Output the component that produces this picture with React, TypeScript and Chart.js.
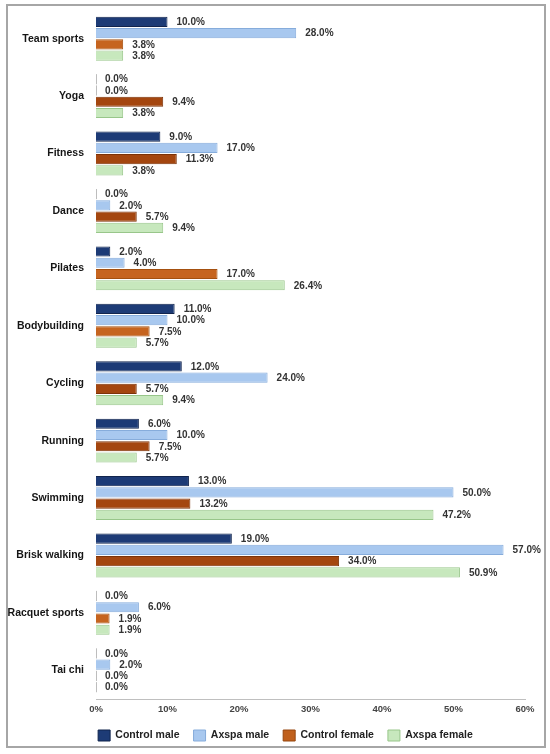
import React, { useEffect, useRef } from "react";
import { Chart, registerables } from "chart.js";

Chart.register(...registerables);

const categories = [
  "Team sports",
  "Yoga",
  "Fitness",
  "Dance",
  "Pilates",
  "Bodybuilding",
  "Cycling",
  "Running",
  "Swimming",
  "Brisk walking",
  "Racquet sports",
  "Tai chi",
];
const seriesNames = ["Control male", "Axspa male", "Control female", "Axspa female"];
const controlMale = [10.0, 0.0, 9.0, 0.0, 2.0, 11.0, 12.0, 6.0, 13.0, 19.0, 0.0, 0.0];
const axspaMale = [28.0, 0.0, 17.0, 2.0, 4.0, 10.0, 24.0, 10.0, 50.0, 57.0, 6.0, 2.0];
const controlFemale = [3.8, 9.4, 11.3, 5.7, 17.0, 7.5, 5.7, 7.5, 13.2, 34.0, 1.9, 0.0];
const axspaFemale = [3.8, 3.8, 3.8, 9.4, 26.4, 5.7, 9.4, 5.7, 47.2, 50.9, 1.9, 0.0];
const xMin = 0;
const xMax = 60;
const xStep = 10;

const FONT = "'Liberation Sans', Arial, Helvetica, sans-serif";

const fills = ["#1d3b76", "#a8c8ef", "#c0601c", "#c7e8bd"];
const borders = ["#11244d", "#86acdb", "#96470f", "#98c68a"];
// control female bars vary between orange and brown tones in the reference
const cfTone = ["o", "b", "b", "b", "o", "o", "b", "b", "b", "b", "o", "b"];
const cfFill = cfTone.map((t) => (t === "o" ? "#c6641f" : "#a4460f"));
const cfBorder = cfTone.map((t) => (t === "o" ? "#a4500f" : "#7c3308"));

const valueLabels = {
  id: "valueLabels",
  afterDatasetsDraw(chart: any) {
    const ctx = chart.ctx;
    ctx.save();
    chart.data.datasets.forEach((ds: any, i: number) => {
      const meta = chart.getDatasetMeta(i);
      meta.data.forEach((el: any, j: number) => {
        const v = ds.data[j] as number;
        const p = el.getProps(["x", "y", "base", "height"], true);
        if (v === 0) {
          ctx.strokeStyle = "#bdbdbd";
          ctx.lineWidth = 1;
          ctx.beginPath();
          const bx = Math.round(p.base) + 0.5;
          ctx.moveTo(bx, p.y - p.height / 2);
          ctx.lineTo(bx, p.y + p.height / 2);
          ctx.stroke();
        }
        ctx.font = `bold 10px ${FONT}`;
        ctx.fillStyle = "#333333";
        ctx.textBaseline = "middle";
        ctx.textAlign = "left";
        ctx.fillText(v.toFixed(1) + "%", p.x + 9, p.y + 0.5);
      });
    });
    ctx.restore();
  },
};

// the legend in the reference is centred on the whole frame, slightly right of canvas centre
const legendShift = {
  id: "legendShift",
  afterLayout(chart: any) {
    if (chart.legend) chart.legend.left += 46;
  },
};

export default function App() {
  const ref = useRef<HTMLCanvasElement | null>(null);

  useEffect(() => {
    if (!ref.current) return;
    const data = [controlMale, axspaMale, controlFemale, axspaFemale];
    const chart = new Chart(ref.current, {
      type: "bar",
      data: {
        labels: categories,
        datasets: data.map((d, i) => ({
          label: seriesNames[i],
          data: d,
          backgroundColor: i === 2 ? cfFill : fills[i],
          borderColor: i === 2 ? cfBorder : borders[i],
          borderWidth: 1,
          categoryPercentage: 0.785,
          barPercentage: 0.9,
        })),
      },
      options: {
        indexAxis: "y",
        responsive: false,
        animation: false,
        layout: { padding: { left: 0, right: 25, top: 10, bottom: 3 } },
        scales: {
          x: {
            min: xMin,
            max: xMax,
            grid: { display: false, drawTicks: false },
            border: { display: true, color: "#bfbfbf", width: 1 },
            ticks: {
              stepSize: xStep,
              padding: 5,
              color: "#444444",
              font: { family: FONT, size: 9.5, weight: "bold" },
              callback: (v: any) => `${v}%`,
            },
            afterFit: (s: any) => {
              s.height = 17;
            },
          },
          y: {
            grid: { display: false, drawTicks: true, tickLength: 12 },
            border: { display: false },
            ticks: {
              padding: 0,
              color: "#151515",
              font: { family: FONT, size: 10.5, weight: "bold" },
            },
            afterFit: (s: any) => {
              s.width = 96;
            },
          },
        },
        plugins: {
          tooltip: { enabled: false },
          legend: {
            position: "bottom",
            labels: {
              boxWidth: 12,
              boxHeight: 11,
              padding: 14,
              color: "#222222",
              font: { family: FONT, size: 10.5, weight: "bold" },
              generateLabels: () =>
                seriesNames.map((n, i) => ({
                  text: n,
                  fillStyle: fills[i],
                  strokeStyle: borders[i],
                  lineWidth: 1,
                  hidden: false,
                  datasetIndex: i,
                  fontColor: "#222222",
                })),
            },
          },
        },
      },
      plugins: [valueLabels, legendShift],
    } as any);
    return () => chart.destroy();
  }, []);

  return (
    <div
      style={{
        position: "fixed",
        left: 0,
        top: 0,
        width: 550,
        height: 754,
        background: "#ffffff",
      }}
    >
      <canvas ref={ref} width={550} height={754} style={{ display: "block" }} />
      <div
        style={{
          position: "absolute",
          left: 6,
          top: 4,
          width: 540,
          height: 744,
          border: "2px solid #a6a6a6",
          boxSizing: "border-box",
          pointerEvents: "none",
        }}
      />
    </div>
  );
}
